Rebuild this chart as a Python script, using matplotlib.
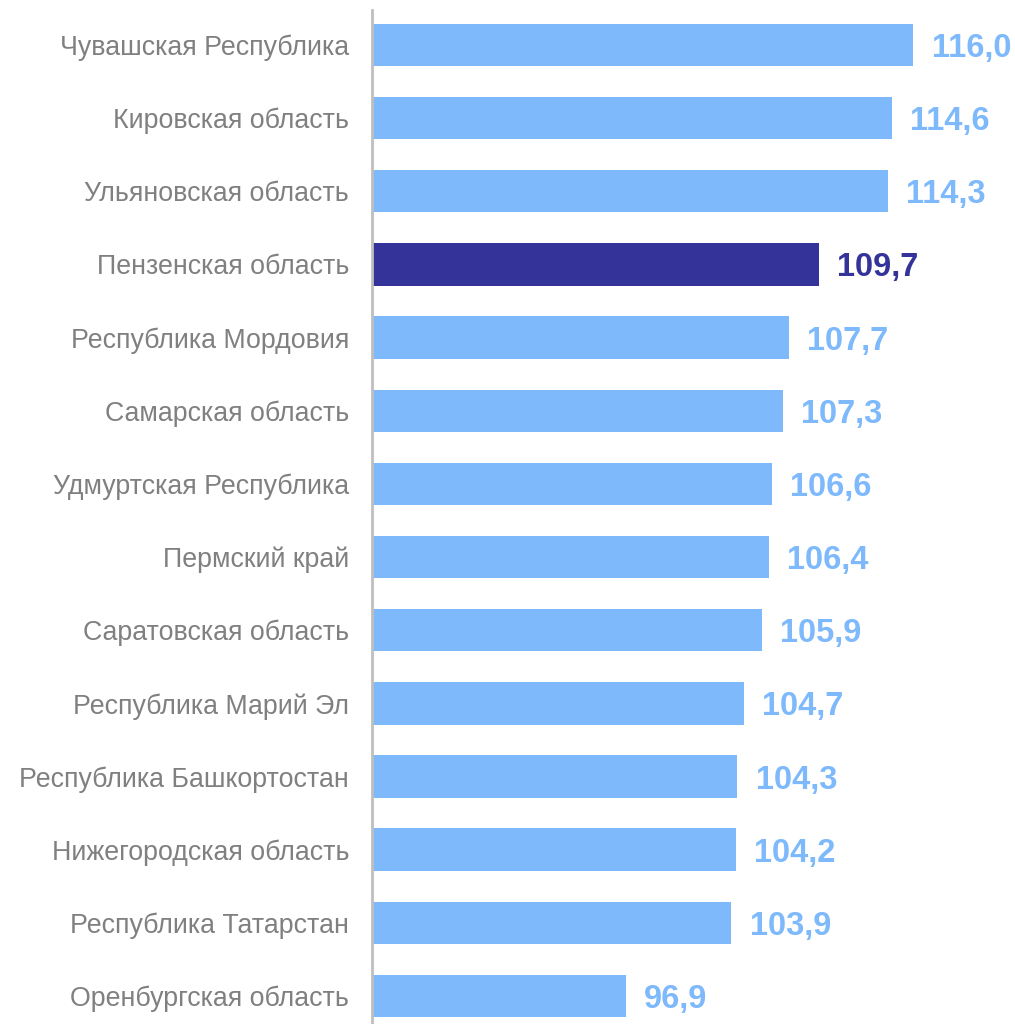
import matplotlib
matplotlib.use("Agg")
import matplotlib.pyplot as plt

categories = ["Чувашская Республика", "Кировская область", "Ульяновская область",
              "Пензенская область", "Республика Мордовия", "Самарская область",
              "Удмуртская Республика", "Пермский край", "Саратовская область",
              "Республика Марий Эл", "Республика Башкортостан", "Нижегородская область",
              "Республика Татарстан", "Оренбургская область"]
values = [116.0, 114.6, 114.3, 109.7, 107.7, 107.3, 106.6, 106.4, 105.9,
          104.7, 104.3, 104.2, 103.9, 96.9]
highlight = "Пензенская область"

light = "#7db9fb"
dark = "#333399"

plt.rcParams['font.family'] = ['Liberation Sans', 'DejaVu Sans']

fig = plt.figure(figsize=(10.15, 10.24), dpi=100)
ax = fig.add_axes([372/1015, 0, 1 - 372/1015, (1024-10)/1024])

base = 80
ys = list(range(len(categories)))
colors = [dark if c == highlight else light for c in categories]
ax.barh(ys, [v - base for v in values], left=base, height=0.58, color=colors)

for y, v, c in zip(ys, values, colors):
    ax.text(v + 1.2, y, f"{v:.1f}".replace(".", ","), va="center_baseline", ha="left",
            fontsize=23.5, fontweight="bold", color=c)

ax.set_xlim(base, 122.75)
ax.set_ylim(13.383, -0.478)
ax.set_yticks(ys)
ax.set_yticklabels(categories, fontsize=19.3, color="#808080")
ax.tick_params(axis="y", length=0, pad=16.5)
ax.set_xticks([])
for s in ["top", "right", "bottom"]:
    ax.spines[s].set_visible(False)
ax.spines["left"].set_color("#bfbfbf")
ax.spines["left"].set_linewidth(2)

fig.savefig("out.png", dpi=100)
